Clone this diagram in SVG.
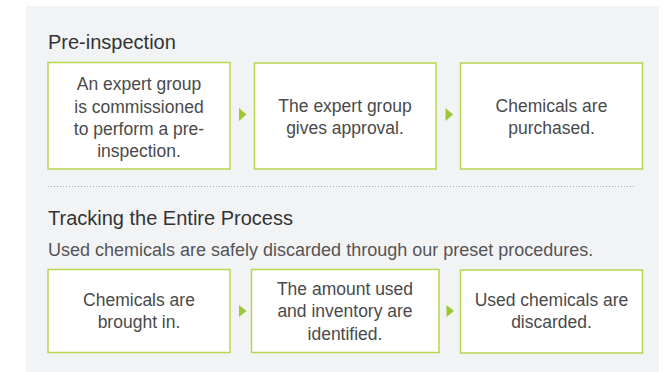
<svg xmlns="http://www.w3.org/2000/svg" width="664" height="372" viewBox="0 0 664 372">
<style>
.box{fill:#ffffff;stroke:#b8d64e;stroke-width:1.5}
.t{font-family:"Liberation Sans",Arial,sans-serif;font-size:17.5px;fill:#4a4a4a;text-anchor:middle}
.h{font-family:"Liberation Sans",Arial,sans-serif;font-size:20px;fill:#333333}
.s{font-family:"Liberation Sans",Arial,sans-serif;font-size:18px;fill:#555555}
.arr{fill:#9cc832}
</style>
<rect x="26" y="6" width="633" height="366" fill="#f2f3f5"/>
<text class="h" x="48" y="49" font-size="20.6">Pre-inspection</text>
<g id="n1"><rect class="box" x="48" y="62.5" width="182" height="106.5"/>
<text class="t"><tspan x="139" y="90">An expert group</tspan><tspan x="139" y="112.5">is commissioned</tspan><tspan x="139" y="135">to perform a pre-</tspan><tspan x="139" y="157">inspection.</tspan></text></g>
<g id="n2"><rect class="box" x="254.5" y="63" width="181.5" height="106"/>
<text class="t"><tspan x="345" y="112">The expert group</tspan><tspan x="345" y="134">gives approval.</tspan></text></g>
<g id="n3"><rect class="box" x="460.5" y="63" width="182" height="106"/>
<text class="t"><tspan x="551.5" y="112">Chemicals are</tspan><tspan x="551.5" y="134">purchased.</tspan></text></g>
<line x1="48" y1="186.5" x2="635" y2="186.5" stroke="#a9abaf" stroke-width="1" stroke-dasharray="1 2"/>
<text class="h" x="48" y="225">Tracking the Entire Process</text>
<text class="s" x="48" y="256">Used chemicals are safely discarded through our preset procedures.</text>
<g id="n4"><rect class="box" x="48" y="269.5" width="182" height="83"/>
<text class="t"><tspan x="139" y="306">Chemicals are</tspan><tspan x="139" y="328">brought in.</tspan></text></g>
<g id="n5"><rect class="box" x="251.5" y="269.5" width="187.5" height="83"/>
<text class="t"><tspan x="345" y="295">The amount used</tspan><tspan x="345" y="317">and inventory are</tspan><tspan x="345" y="339.5">identified.</tspan></text></g>
<g id="n6"><rect class="box" x="460.5" y="270" width="182" height="83"/>
<text class="t"><tspan x="551.5" y="306">Used chemicals are</tspan><tspan x="551.5" y="328">discarded.</tspan></text></g>
<g id="connectors">
<polygon class="arr" points="239,108 246.5,114.5 239,121"/>
<polygon class="arr" points="445.5,108 453,114.5 445.5,121"/>
<polygon class="arr" points="239,305 246.5,311 239,317"/>
<polygon class="arr" points="446.5,305 454,311 446.5,317"/>
</g>
</svg>
